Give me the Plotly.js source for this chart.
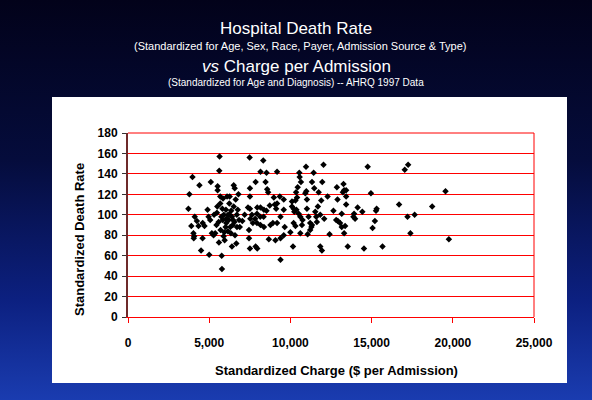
<!DOCTYPE html>
<html>
<head>
<meta charset="utf-8">
<script src="https://cdn.plot.ly/plotly-3.0.1.min.js"></script>
<style>
  html, body { margin: 0; padding: 0; }
  body {
    width: 592px; height: 400px; overflow: hidden; position: relative;
    background: linear-gradient(to bottom, #02021a 0%, #050c3c 40%, #0c2080 75%, #1a3cb0 100%);
    font-family: "Liberation Sans", Arial, sans-serif;
  }
  #box { position: absolute; left: 52px; top: 97px; width: 515px; height: 286px; background: #ffffff; }
  #chart { position: absolute; left: 0; top: 0; width: 592px; height: 400px; }
</style>
</head>
<body>
<div id="box"></div>
<div id="chart"></div>
<script>
// Standardized charge ($ per admission)
const charge = [
  3720,3780,3970,3900,4110,4030,4070,4050,4240,4400,4340,4590,4500,4600,4710,4900,5000,5100,4960,5060,
  5165,5270,5370,5475,5520,5520,5580,5600,5640,5620,5680,5680,5770,5785,5830,5810,5850,5930,5890,5950,
  6010,6030,6100,6160,6200,6240,6260,6300,6340,6400,6400,6470,6510,6510,6570,6590,6630,6670,6710,6760,
  6800,6840,6880,5300,5450,5700,5900,6050,6150,6350,6450,5750,6250,6550,6700,5500,6050,
  7490,8330,8160,8530,9180,7860,8470,7510,8570,8630,7510,8980,9350,9590,9180,9040,8730,7390,7510,7960,
  8160,8370,8530,9120,9590,7180,7630,7940,8140,8350,7830,7530,7040,7690,7940,8160,8370,8770,8920,9180,
  9390,9650,7450,7450,7510,7860,7960,8670,9080,9390,9590,9390,10000,10160,10100,10200,10310,10100,10350,10450,
  10550,10570,10650,10410,10240,10370,10510,10610,10200,10310,10610,10710,10750,10920,10980,10960,11020,11020,11120,11220,
  11290,11220,11060,11330,11330,11430,11470,11530,11590,11630,11740,11690,11840,11900,11840,11940,11960,12040,12080,12290,
  12410,12650,12860,12900,12820,12920,13060,13160,13270,13310,13430,13230,13430,13430,13160,13370,13310,13530,13880,13980,
  13920,14140,14430,14530,14760,14960,15060,15200,15310,15270,15670,16690,17040,17250,17210,17390,17650,18730,19550,19760
];
// Standardized death rate
const deathRate = [
  106,120,137,89,98,82,79,77,94,129,89,77,65,92,89,105,61,132,98,95,
  82,80,82,102,128,124,93,73,157,143,111,118,60,47,95,106,116,83,79,75,
  88,105,118,100,95,111,118,88,82,98,69,95,108,129,126,80,115,72,88,105,
  120,95,88,100,90,85,100,92,84,104,90,98,100,93,100,108,96,
  156,153,142,141,142,132,132,126,125,122,118,117,118,115,111,110,109,107,106,107,
  107,105,104,106,105,100,100,101,98,98,96,96,94,92,92,90,88,90,92,92,
  98,88,85,77,67,69,67,76,75,77,80,56,83,69,108,106,114,113,122,127,
  141,137,132,117,103,105,101,98,92,89,82,90,95,121,123,147,115,106,98,92,
  88,85,81,90,132,141,126,103,98,93,122,108,100,114,69,65,132,149,96,118,
  81,104,127,115,95,94,92,101,130,124,124,122,118,110,88,89,82,69,98,96,
  101,107,103,67,147,121,87,94,106,104,69,110,144,149,98,82,100,108,123,76
];
const xTicks = [0, 5000, 10000, 15000, 20000, 25000];
const yTicks = [0, 20, 40, 60, 80, 100, 120, 140, 160, 180];

const W = 592, H = 400, L = 128, R = 58, T = 133, B = 83;
const pw = W - L - R, ph = H - T - B;
const px = x => (x - L) / pw;
const py = y => (H - B - y) / ph;

const trace = {
  type: 'scatter', mode: 'markers',
  x: charge, y: deathRate,
  marker: { symbol: 'diamond', size: 5, color: '#000000', line: { width: 0 } },
  hoverinfo: 'x+y'
};

const FAM = 'Liberation Sans, Arial, sans-serif';
const tickFont = { family: FAM, size: 12, color: '#000000', weight: 'bold' };
const white = '#ffffff';

const layout = {
  width: W, height: H,
  margin: { l: L, r: R, t: T, b: B, pad: 0 },
  paper_bgcolor: 'rgba(0,0,0,0)',
  plot_bgcolor: 'rgba(0,0,0,0)',
  showlegend: false,
  xaxis: {
    range: [0, 25000], tickvals: xTicks, tickformat: ',d',
    showgrid: false, zeroline: false,
    showline: true, linecolor: '#ff0000', linewidth: 1,
    ticks: 'outside', ticklen: 5, tickcolor: '#ff0000', tickwidth: 1,
    ticklabelstandoff: 10,
    tickfont: tickFont, fixedrange: true
  },
  yaxis: {
    range: [0, 180], tickvals: yTicks,
    showgrid: true, gridcolor: '#ff0000', gridwidth: 1,
    zeroline: false,
    showline: true, linecolor: '#6e2a2a', linewidth: 2,
    ticks: 'outside', ticklen: 4, tickcolor: '#333333', tickwidth: 1,
    ticklabelstandoff: 2,
    tickfont: tickFont, fixedrange: true
  },
  shapes: [
    { type: 'line', xref: 'paper', yref: 'paper', x0: 0, x1: 1, y0: 1, y1: 1, line: { color: '#ff0000', width: 1 }, layer: 'below' },
    { type: 'line', xref: 'paper', yref: 'paper', x0: 1, x1: 1, y0: 0, y1: 1, line: { color: '#ff0000', width: 1 }, layer: 'below' }
  ],
  annotations: [
    { text: 'Hospital Death Rate', xref: 'paper', yref: 'paper', x: px(296), y: py(29), showarrow: false,
      xanchor: 'center', yanchor: 'middle', font: { family: FAM, size: 17, color: white } },
    { text: '(Standardized for Age, Sex, Race, Payer, Admission Source &amp; Type)', xref: 'paper', yref: 'paper', x: px(300), y: py(46), showarrow: false,
      xanchor: 'center', yanchor: 'middle', font: { family: FAM, size: 11, color: white } },
    { text: '<i>vs</i> Charge per Admission', xref: 'paper', yref: 'paper', x: px(296), y: py(66), showarrow: false,
      xanchor: 'center', yanchor: 'middle', font: { family: FAM, size: 17, color: white } },
    { text: '(Standardized for Age and Diagnosis) -- AHRQ 1997 Data', xref: 'paper', yref: 'paper', x: px(296), y: py(83), showarrow: false,
      xanchor: 'center', yanchor: 'middle', font: { family: FAM, size: 10, color: white } },
    { text: 'Standardized Charge ($ per Admission)', xref: 'paper', yref: 'paper', x: px(336), y: py(370), showarrow: false,
      xanchor: 'center', yanchor: 'middle', font: { family: FAM, size: 13, color: '#000000', weight: 'bold' } },
    { text: 'Standardized Death Rate', xref: 'paper', yref: 'paper', x: px(79), y: py(240), showarrow: false, textangle: -90,
      xanchor: 'center', yanchor: 'middle', font: { family: FAM, size: 13, color: '#000000', weight: 'bold' } }
  ]
};

Plotly.newPlot('chart', [trace], layout, { displayModeBar: false, staticPlot: true });
</script>
</body>
</html>
